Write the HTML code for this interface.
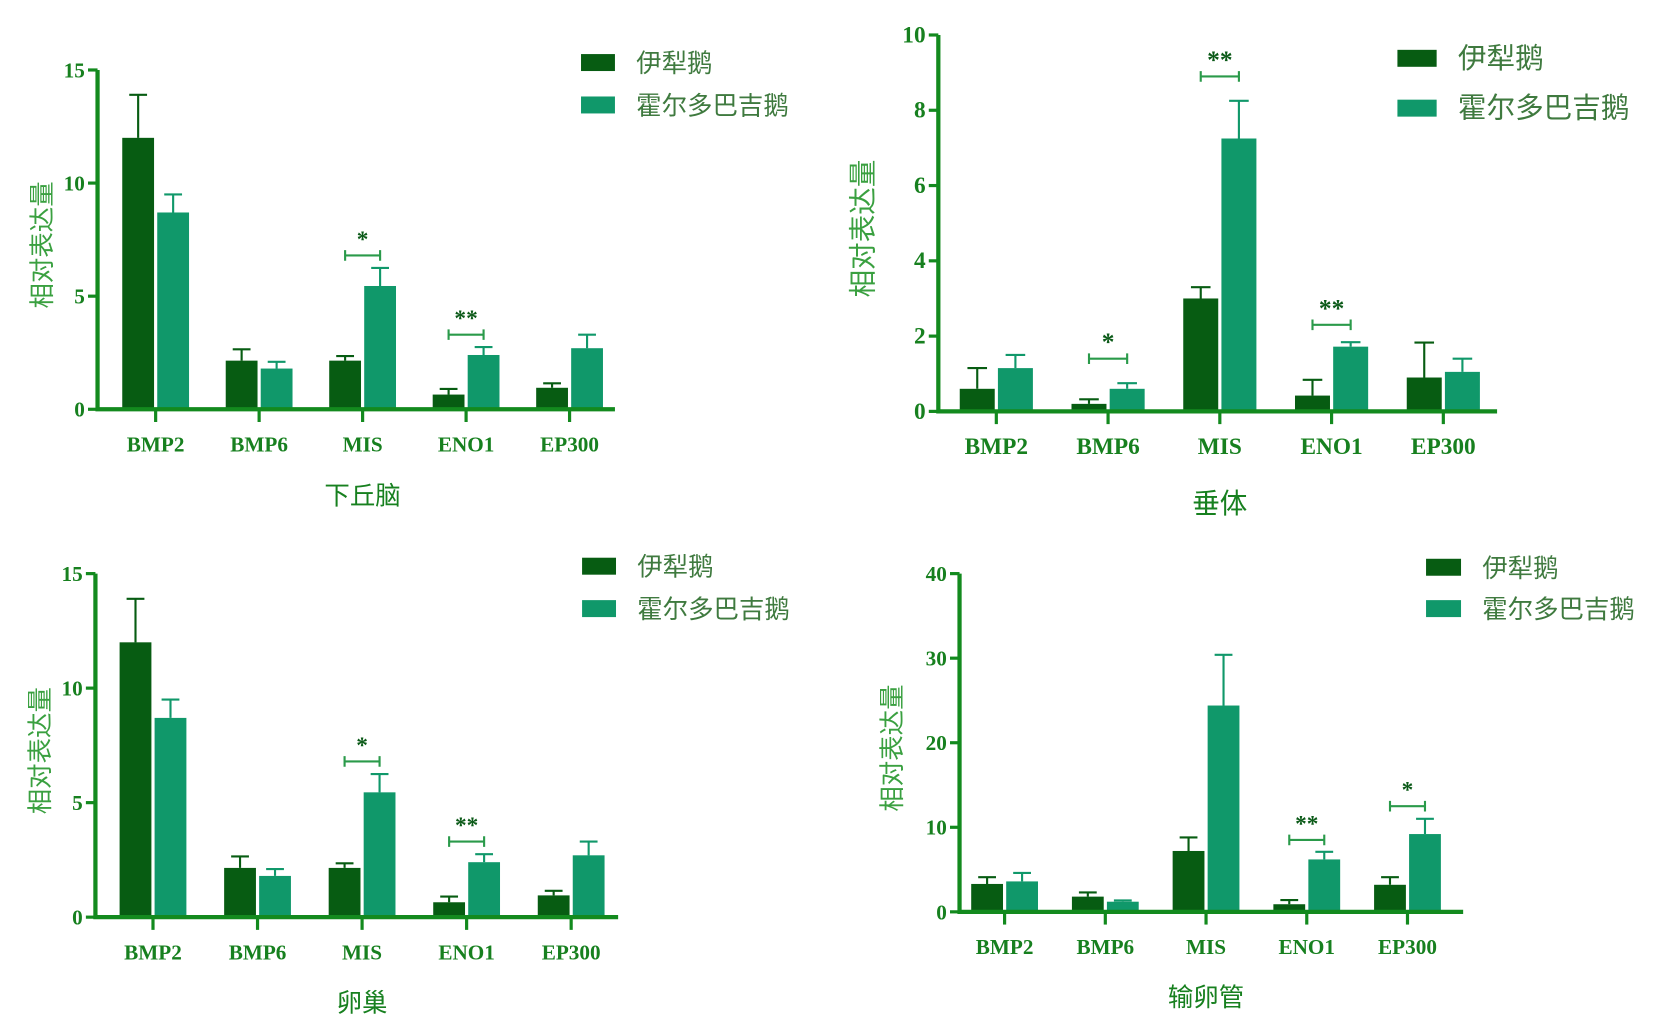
<!DOCTYPE html>
<html><head><meta charset="utf-8"><style>
html,body{margin:0;padding:0;background:#fff;}
svg{display:block;}
text{font-family:"Liberation Serif","Noto Serif CJK SC",serif;}
.cjk{font-family:"Liberation Sans","Noto Sans CJK SC",sans-serif;}
</style></head><body>
<svg id="fig" width="1654" height="1020" viewBox="0 0 1560 962" preserveAspectRatio="none" xmlns="http://www.w3.org/2000/svg"></svg>
<script>
const categories = ["BMP2","BMP6","MIS","ENO1","EP300"];
const seriesNames = ["伊犁鹅","霍尔多巴吉鹅"];
// 下丘脑
const p1Ili = [12.0,2.15,2.15,0.65,0.95];
const p1IliErr = [1.9,0.5,0.2,0.25,0.2];
const p1Hor = [8.7,1.8,5.45,2.4,2.7];
const p1HorErr = [0.8,0.3,0.8,0.35,0.6];
const p1Ticks = [0,5,10,15];
const p1Sig = [[2,"*",6.8],[3,"**",3.3]];
// 垂体
const p2Ili = [0.6,0.2,3.0,0.42,0.9];
const p2IliErr = [0.55,0.12,0.3,0.42,0.93];
const p2Hor = [1.15,0.6,7.25,1.72,1.05];
const p2HorErr = [0.35,0.15,1.0,0.12,0.35];
const p2Ticks = [0,2,4,6,8,10];
const p2Sig = [[1,"*",1.4],[2,"**",8.9],[3,"**",2.3]];
// 卵巢
const p3Ili = [12.0,2.15,2.15,0.65,0.95];
const p3IliErr = [1.9,0.5,0.2,0.25,0.2];
const p3Hor = [8.7,1.8,5.45,2.4,2.7];
const p3HorErr = [0.8,0.3,0.8,0.35,0.6];
const p3Ticks = [0,5,10,15];
const p3Sig = [[2,"*",6.8],[3,"**",3.3]];
// 输卵管
const p4Ili = [3.3,1.8,7.2,0.9,3.2];
const p4IliErr = [0.8,0.5,1.6,0.5,0.9];
const p4Hor = [3.6,1.2,24.4,6.2,9.2];
const p4HorErr = [1.0,0.15,6.0,0.9,1.8];
const p4Ticks = [0,10,20,30,40];
const p4Sig = [[3,"**",8.5],[4,"*",12.5]];

const NS="http://www.w3.org/2000/svg";
const svg=document.getElementById('fig');
const DARK="#075c12", LIGHT="#10986a", AX="#138a1e", TXT="#17801f";
function mk(tag,attrs,parent){const e=document.createElementNS(NS,tag);for(const k in attrs)e.setAttribute(k,attrs[k]);(parent||svg).appendChild(e);return e;}

function panel(name,cfg,ili,iliErr,hor,horErr,ticks,sig){
  const g=mk('g',{});
  
  
  const max=ticks[ticks.length-1];
  const y=v=>cfg.y0-(v/max)*(cfg.y0-cfg.yTop);
  const step=(cfg.xEnd-cfg.ax)/categories.length;
  const cx=i=>cfg.ax+step*(i+0.5)+cfg.shift;
  const bw=cfg.bw;
  // bars
  categories.forEach((c,i)=>{
    [[ili,iliErr,DARK,-1],[hor,horErr,LIGHT,1]].forEach(([vals,errs,col,side],s)=>{
      const x0=side<0?cx(i)-bw-1.5:cx(i)+1.5;
      const top=y(vals[i]);
      const r=mk('rect',{x:x0,y:top,width:bw,height:cfg.y0-top,fill:col},g);
      
      
      const xm=x0+bw/2, et=y(vals[i]+errs[i]);
      const e=mk('path',{d:`M${xm} ${top}V${et}M${xm-bw*0.28} ${et}H${xm+bw*0.28}`,stroke:col,'stroke-width':2,fill:'none'},g);
      
      
    });
    const t=mk('text',{x:cx(i),y:cfg.y0+40,'text-anchor':'middle','font-size':cfg.fs,'font-weight':'bold',fill:TXT},g);
    t.textContent=c;
    
    
    mk('line',{x1:cx(i),x2:cx(i),y1:cfg.y0,y2:cfg.y0+12,stroke:AX,'stroke-width':3},g);
  });
  // axes
  const ax=mk('path',{d:`M${cfg.ax} ${cfg.yTop}V${cfg.y0}H${cfg.xEnd}`,stroke:AX,'stroke-width':4,fill:'none'},g);
  
  
  ticks.forEach(v=>{
    mk('line',{x1:cfg.ax-9,x2:cfg.ax,y1:y(v),y2:y(v),stroke:AX,'stroke-width':3},g);
    const t=mk('text',{x:cfg.ax-12,y:y(v)+7,'text-anchor':'end','font-size':cfg.fs,'font-weight':'bold',fill:TXT},g);
    t.textContent=v;
    
    
  });
  // significance
  sig.forEach(([i,s,v])=>{
    const yy=y(v), x1=cx(i)-bw/2-1.5, x2=cx(i)+bw/2+1.5;
    const b=mk('path',{d:`M${x1} ${yy}H${x2}M${x1} ${yy-5}V${yy+5}M${x2} ${yy-5}V${yy+5}`,stroke:'#2a9a4a','stroke-width':2,fill:'none'},g);
    
    
    const t=mk('text',{x:cx(i),y:yy-8,'text-anchor':'middle','font-size':cfg.fs+2,'font-weight':'bold',fill:'#0b5a18'},g);
    t.textContent=s;
    
    
  });
  // y title
  const yt=mk('text',{x:0,y:0,'class':'cjk','text-anchor':'middle','font-size':cfg.fs+4,fill:'#3aa040',transform:`translate(${cfg.ytx},${(cfg.yTop+cfg.y0)/2+5}) rotate(-90)`},g);
  yt.textContent="相对表达量";
  
  
  // x title
  const xt=mk('text',{x:cx(2),y:cfg.xty,'class':'cjk','text-anchor':'middle','font-size':cfg.fs+4,fill:TXT},g);
  xt.textContent=name==='panel-hypothalamus'?'下丘脑':name==='panel-pituitary'?'垂体':name==='panel-ovary'?'卵巢':'输卵管';
  
  
  // legend
  [DARK,LIGHT].forEach((col,k)=>{
    const ly=cfg.ly+k*cfg.lgap;
    const r=mk('rect',{x:cfg.lx,y:ly-8,width:cfg.lw,height:16,fill:col},g);
    
    
    const t=mk('text',{x:cfg.lx+cfg.lw+20,y:ly+9,'class':'cjk','font-size':cfg.lfs,fill:'#3f7a3f'},g);
    t.textContent=seriesNames[k];
    
    
  });
}
panel('panel-hypothalamus',{ax:92,yTop:66,y0:386,xEnd:580,shift:6,bw:30,fs:20,ytx:48,xty:476,lx:548,ly:59,lgap:40,lw:32,lfs:24},p1Ili,p1IliErr,p1Hor,p1HorErr,p1Ticks,p1Sig);
panel('panel-pituitary',{ax:885,yTop:33,y0:388,xEnd:1412,shift:2,bw:33,fs:22,ytx:823,xty:484,lx:1318,ly:55,lgap:47,lw:37,lfs:27},p2Ili,p2IliErr,p2Hor,p2HorErr,p2Ticks,p2Sig);
panel('panel-ovary',{ax:90,yTop:541,y0:865,xEnd:583,shift:5,bw:30,fs:20,ytx:46,xty:954,lx:549,ly:534,lgap:40,lw:32,lfs:24},p3Ili,p3IliErr,p3Hor,p3HorErr,p3Ticks,p3Sig);
panel('panel-oviduct',{ax:905,yTop:541,y0:860,xEnd:1380,shift:-5,bw:30,fs:20,ytx:850,xty:949,lx:1345,ly:535,lgap:39,lw:33,lfs:24},p4Ili,p4IliErr,p4Hor,p4HorErr,p4Ticks,p4Sig);
</script>
</body></html>
